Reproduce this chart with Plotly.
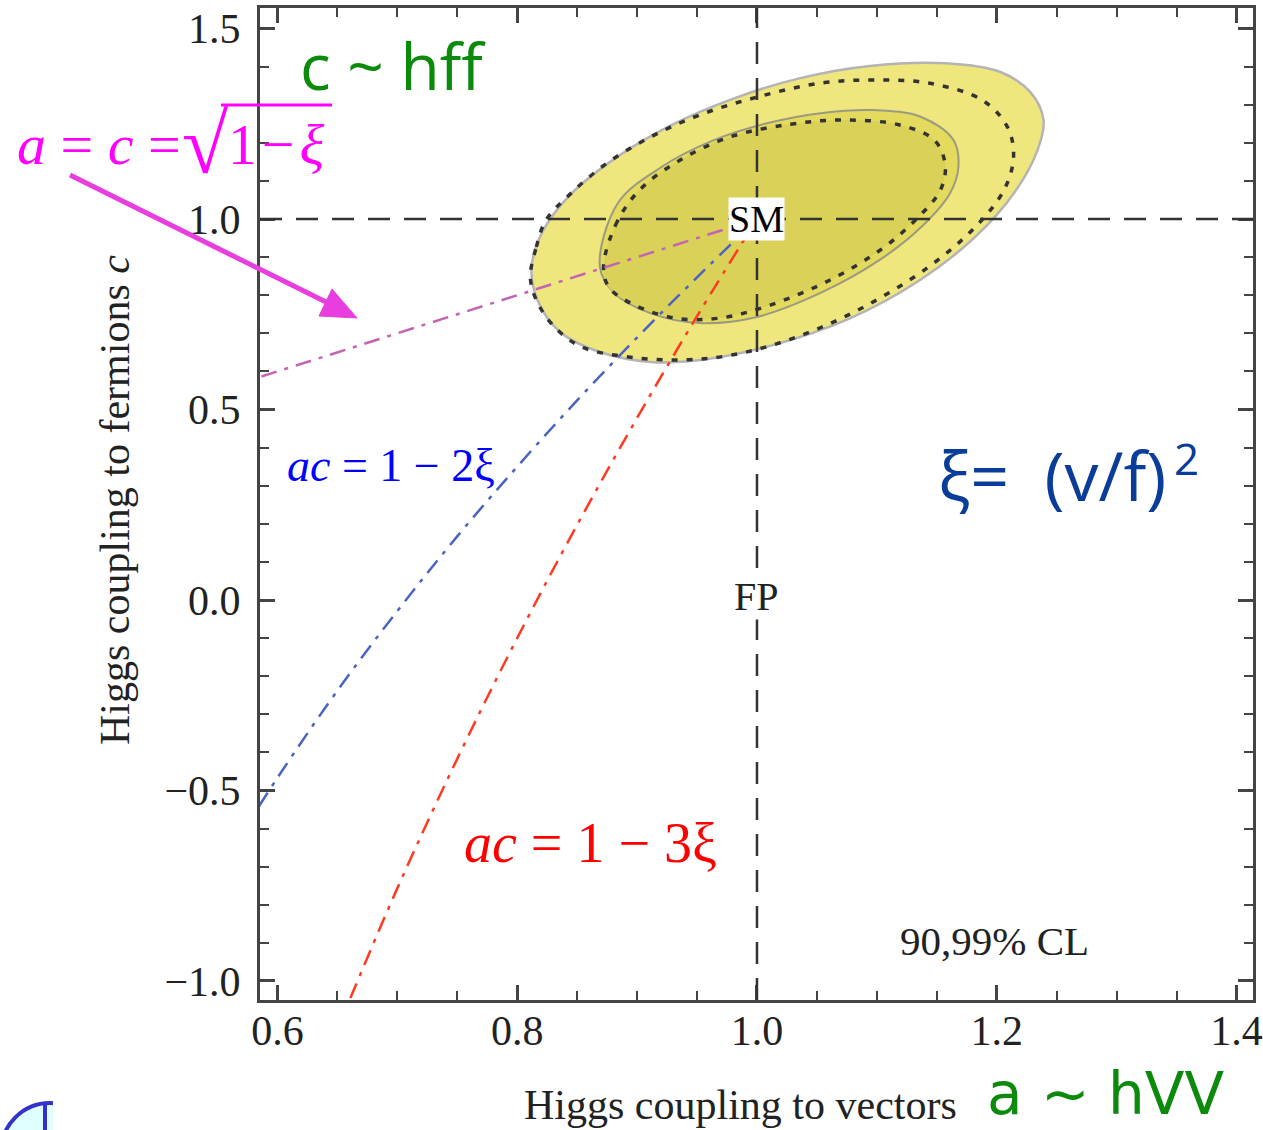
import plotly.graph_objects as go

# Confidence-region contours in the (a, c) plane
outer99_a = [1.158, 1.203, 1.228, 1.239, 1.234, 1.215, 1.182, 1.136, 1.078, 1.011, 0.953, 0.911,
             0.869, 0.836, 0.817, 0.812, 0.821, 0.844, 0.882, 0.927, 0.982, 1.036, 1.094]
outer99_c = [1.409, 1.386, 1.333, 1.260, 1.181, 1.071, 0.953, 0.840, 0.740, 0.667, 0.630, 0.625,
             0.651, 0.703, 0.787, 0.871, 0.966, 1.063, 1.160, 1.244, 1.318, 1.370, 1.402]

inner90_a = [0.869, 0.884, 0.920, 0.964, 1.009, 1.053, 1.098, 1.137, 1.164, 1.168, 1.161, 1.137,
             1.102, 1.053, 1.000, 0.952, 0.911, 0.881]
inner90_c = [0.874, 1.042, 1.136, 1.207, 1.252, 1.278, 1.286, 1.268, 1.207, 1.136, 1.068, 0.979,
             0.892, 0.806, 0.743, 0.727, 0.753, 0.806]

outer99_dot_a = [0.811, 0.816, 0.824, 0.845, 0.875, 0.911, 0.952, 1.000, 1.053, 1.098, 1.143, 1.188,
                 1.209, 1.214, 1.206, 1.182, 1.143, 1.089, 1.033, 0.979, 0.935, 0.893, 0.854, 0.831, 0.816]
outer99_dot_c = [0.848, 0.927, 0.997, 1.068, 1.147, 1.215, 1.273, 1.320, 1.357, 1.365, 1.357, 1.312,
                 1.241, 1.163, 1.076, 0.979, 0.874, 0.769, 0.690, 0.643, 0.630, 0.638, 0.664, 0.717, 0.787]

inner90_dot_a = [0.872, 0.882, 0.902, 0.936, 0.977, 1.028, 1.073, 1.119, 1.148, 1.157, 1.153, 1.132,
                 1.103, 1.061, 1.011, 0.969, 0.932, 0.898, 0.877]
inner90_dot_c = [0.871, 0.984, 1.076, 1.155, 1.215, 1.249, 1.260, 1.247, 1.207, 1.142, 1.076, 0.997,
                 0.919, 0.840, 0.774, 0.740, 0.740, 0.774, 0.819]

# Model lines through the SM point
line_sqrt_a = [1.0, 0.9, 0.8, 0.7, 0.6, 0.55]
line_sqrt_c = [1.0, 0.9, 0.8, 0.7, 0.6, 0.55]

line_2xi_a = [1.0, 0.95, 0.9, 0.85, 0.8, 0.75, 0.7, 0.65, 0.6, 0.57]
line_2xi_c = [1.0, 0.847, 0.689, 0.524, 0.350, 0.167, -0.029, -0.238, -0.467, -0.614]

line_3xi_a = [1.0, 0.95, 0.9, 0.85, 0.8, 0.75, 0.7, 0.65]
line_3xi_c = [1.0, 0.745, 0.478, 0.197, -0.100, -0.417, -0.757, -1.127]

x_ticks = [0.6, 0.8, 1.0, 1.2, 1.4]
y_ticks = [-1.0, -0.5, 0.0, 0.5, 1.0, 1.5]

W, H = 1263, 1130
L, R, T, B = 260, 10, 8, 130
PW, PH = W - L - R, H - T - B


def px(xp):
    return (xp - L) / PW


def py(yp):
    return (H - B - yp) / PH


def closed(xs, ys):
    return xs + xs[:1], ys + ys[:1]


fig = go.Figure()

xs, ys = closed(outer99_a, outer99_c)
fig.add_trace(go.Scatter(x=xs, y=ys, mode="lines", fill="toself", fillcolor="#f0e67e",
                         line=dict(color="#b4b4b4", width=2.5, shape="spline", smoothing=1.0)))
xs, ys = closed(inner90_a, inner90_c)
fig.add_trace(go.Scatter(x=xs, y=ys, mode="lines", fill="toself", fillcolor="#e4db5e",
                         line=dict(color="#9a9a80", width=2, shape="spline", smoothing=1.0)))
xs, ys = closed(inner90_dot_a, inner90_dot_c)
fig.add_trace(go.Scatter(x=xs, y=ys, mode="lines", fill="toself", fillcolor="#dad258",
                         line=dict(color="#333333", width=3.5, dash="6px,9px", shape="spline", smoothing=1.0)))
xs, ys = closed(outer99_dot_a, outer99_dot_c)
fig.add_trace(go.Scatter(x=xs, y=ys, mode="lines",
                         line=dict(color="#333333", width=3.5, dash="6px,9px", shape="spline", smoothing=1.0)))

dashdot = "16px,8px,4px,8px"
fig.add_trace(go.Scatter(x=line_sqrt_a, y=line_sqrt_c, mode="lines",
                         line=dict(color="#c463b4", width=2.5, dash=dashdot)))
fig.add_trace(go.Scatter(x=line_2xi_a, y=line_2xi_c, mode="lines",
                         line=dict(color="#4a64c0", width=2.5, dash=dashdot, shape="spline")))
fig.add_trace(go.Scatter(x=line_3xi_a, y=line_3xi_c, mode="lines",
                         line=dict(color="#ff3a22", width=2.5, dash=dashdot, shape="spline")))

axis_common = dict(
    showgrid=False, zeroline=False, showline=True, mirror="ticks",
    linecolor="#444444", linewidth=3, automargin=False,
    ticks="inside", ticklen=15, tickwidth=2.5, tickcolor="#444444",
    tickfont=dict(family="Liberation Serif", size=42, color="#222222"),
    tickformat=".1f",
)

fig.update_layout(
    width=W, height=H,
    margin=dict(l=L, r=R, t=T, b=B, autoexpand=False),
    paper_bgcolor="white", plot_bgcolor="white",
    showlegend=False,
    xaxis=dict(range=[0.5855, 1.4137], tickvals=x_ticks,
               minor=dict(dtick=0.05, tick0=0.6, ticks="inside", ticklen=9,
                          tickwidth=2, tickcolor="#444444"),
               ticklabelstandoff=-8, **axis_common),
    yaxis=dict(range=[-1.050, 1.554], tickvals=y_ticks,
               minor=dict(dtick=0.1, tick0=0.0, ticks="inside", ticklen=9,
                          tickwidth=2, tickcolor="#444444"),
               ticklabelstandoff=8, **axis_common),
)

# SM reference lines a = 1 and c = 1
fig.add_shape(type="line", xref="x", yref="paper", x0=1.0, x1=1.0, y0=0, y1=1,
              line=dict(color="#333333", width=2.5, dash="22px,14px"), layer="above")
fig.add_shape(type="line", xref="paper", yref="y", x0=0, x1=1, y0=1.0, y1=1.0,
              line=dict(color="#333333", width=2.5, dash="22px,14px"), layer="above")

serif = "Liberation Serif"
sans = "Open Sans"
P = dict(xref="paper", yref="paper", showarrow=False, yanchor="middle")
hair = "\u200a"

ann = [
    dict(x=1.0, y=1.0, xref="x", yref="y", text="SM", showarrow=False,
         xanchor="center", yanchor="middle",
         font=dict(family=serif, size=38, color="black"), bgcolor="white", borderpad=0),
    dict(x=1.0, y=0.008, xref="x", yref="y", text="FP", showarrow=False,
         xanchor="center", yanchor="middle",
         font=dict(family=serif, size=40, color="#222222"), bgcolor="white", borderpad=0),
    dict(x=px(898), y=py(941), text="90,99% CL", xanchor="left",
         font=dict(family=serif, size=41, color="#222222"), **P),
    dict(x=px(740), y=py(1105), text="Higgs coupling to vectors", xanchor="center",
         font=dict(family=serif, size=42, color="#222222"), **P),
    dict(x=px(115), y=py(500), text="Higgs coupling to fermions <i>c</i>", xanchor="center",
         textangle=-90, font=dict(family=serif, size=42, color="#222222"), **P),
    dict(x=px(298), y=py(65), text="c ~ hff", xanchor="left",
         font=dict(family=sans, size=64, color="#0b8a0b"), **P),
    dict(x=px(985), y=py(1130), text="a ~ hVV", xanchor="left", xref="paper", yref="paper",
         showarrow=False, yanchor="bottom",
         font=dict(family="DejaVu Sans", size=58, color="#0b8a0b")),
    dict(x=px(936), y=py(474), text="ξ=\u00a0\u00a0(v/f)", xanchor="left",
         font=dict(family=sans, size=68, color="#0a3d9a"), **P),
    dict(x=px(1172), y=py(458), text="2", xanchor="left",
         font=dict(family=sans, size=44, color="#0a3d9a"), **P),
    dict(x=px(15), y=py(145), text="<i>a</i> = <i>c</i> =",
         xanchor="left", font=dict(family=serif, size=58, color="#ff00ff"), **P),
    dict(x=px(205), y=py(144), text="√",
         xanchor="center", font=dict(family=serif, size=84, color="#ff00ff"), **P),
    dict(x=px(226), y=py(145), text="1" + hair + "−" + hair + "<i>ξ</i>",
         xanchor="left", font=dict(family=serif, size=58, color="#ff00ff"), **P),
    dict(x=px(285), y=py(465), text="<i>ac</i> = 1 − 2ξ", xanchor="left",
         font=dict(family=serif, size=46, color="#0000ff"), **P),
    dict(x=px(462), y=py(843), text="<i>ac</i> = 1 − 3ξ", xanchor="left",
         font=dict(family=serif, size=56, color="#ff0000"), **P),
]
fig.update_layout(annotations=ann)

# overbar of the square root
fig.add_shape(type="line", xref="paper", yref="paper", x0=px(221), x1=px(332),
              y0=py(105), y1=py(105), line=dict(color="#ff00ff", width=3))

# pointer from the a = c label towards its curve: shaft plus filled head
arrow_col = "#e83ee0"
fig.add_shape(type="line", xref="paper", yref="paper", x0=px(70), y0=py(175),
              x1=px(328), y1=py(303), line=dict(color=arrow_col, width=5))
head = [(357, 318), (319, 316), (332, 289)]
fig.add_shape(type="path", xref="paper", yref="paper",
              path="M {} {} L {} {} L {} {} Z".format(
                  px(head[0][0]), py(head[0][1]), px(head[1][0]), py(head[1][1]),
                  px(head[2][0]), py(head[2][1])),
              fillcolor=arrow_col, line=dict(color=arrow_col, width=1))

# small round emblem in the bottom-left corner
fig.add_shape(type="circle", xref="paper", yref="paper", x0=px(1), x1=px(99),
              y0=py(1201), y1=py(1103), fillcolor="#e0ffff",
              line=dict(color="#3333cc", width=4))
fig.add_shape(type="rect", xref="paper", yref="paper", x0=px(53), x1=px(115),
              y0=py(1135), y1=py(1095), fillcolor="white", line=dict(width=0))
fig.add_shape(type="line", xref="paper", yref="paper", x0=px(45), x1=px(45),
              y0=py(1103), y1=py(1135), line=dict(color="#3333cc", width=4))

fig.write_html("out.html")
